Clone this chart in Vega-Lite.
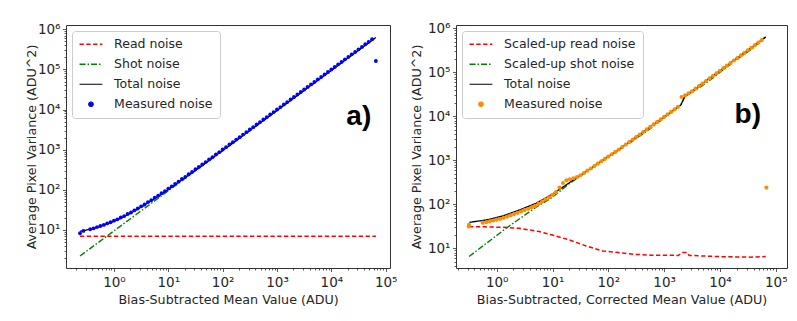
{
  "padding": {"left": 24, "top": 20, "right": 0, "bottom": 0},
  "spacing": 11,
  "config": {
    "font": "DejaVu Sans",
    "view": {"stroke": "#333333", "strokeWidth": 1},
    "axis": {"domain": false, "grid": false, "tickColor": "#333333", "tickWidth": 0.8,
      "labelFont": "DejaVu Sans", "labelFontSize": 13.5, "labelColor": "#262626",
      "titleFont": "DejaVu Sans", "titleFontSize": 12.7, "titleFontWeight": "normal", "titleColor": "#262626",
      "labelPadding": 2.5, "labelOverlap": false, "labelFlush": false, "labelBound": false},
    "axisX": {"labelPadding": 3.5},
    "legend": {"labelFont": "DejaVu Sans", "labelFontSize": 12.5, "labelColor": "#262626", "labelLimit": 400}
  },
  "resolve": {"scale": {"x": "independent", "y": "independent", "color": "independent", "strokeDash": "independent", "strokeWidth": "independent"}, "legend": {"color": "independent"}},
  "datasets": {
    "a_lines": [
      {"x": 0.2371, "y": 7, "s": "Read noise"}, {"x": 66000, "y": 7, "s": "Read noise"},
      {"x": 0.2371, "y": 2.25, "s": "Shot noise"}, {"x": 66000, "y": 627000, "s": "Shot noise"},
      {"x": 0.2371, "y": 9.25, "s": "Total noise"}, {"x": 0.3, "y": 9.85, "s": "Total noise"}, {"x": 0.4, "y": 10.8, "s": "Total noise"},
      {"x": 0.5, "y": 11.75, "s": "Total noise"}, {"x": 0.7, "y": 13.65, "s": "Total noise"}, {"x": 1, "y": 16.5, "s": "Total noise"},
      {"x": 1.5, "y": 21.25, "s": "Total noise"}, {"x": 2, "y": 26, "s": "Total noise"}, {"x": 3, "y": 35.5, "s": "Total noise"},
      {"x": 5, "y": 54.5, "s": "Total noise"}, {"x": 7, "y": 73.5, "s": "Total noise"}, {"x": 10, "y": 102, "s": "Total noise"},
      {"x": 20, "y": 197, "s": "Total noise"}, {"x": 50, "y": 482, "s": "Total noise"}, {"x": 100, "y": 957, "s": "Total noise"},
      {"x": 300, "y": 2857, "s": "Total noise"}, {"x": 1000, "y": 9507, "s": "Total noise"}, {"x": 10000, "y": 95007, "s": "Total noise"},
      {"x": 66000, "y": 627007, "s": "Total noise"}
    ],
    "a_meas": [
      {"x": 0.2371, "y": 8.3}, {"x": 0.2738, "y": 9.5}, {"x": 0.3652, "y": 10.4}, {"x": 0.4217, "y": 11.0}, {"x": 0.487, "y": 11.8},
      {"x": 0.5623, "y": 12.6}, {"x": 0.6494, "y": 13.4}, {"x": 0.7499, "y": 14.6}, {"x": 0.866, "y": 15.6}, {"x": 1.0, "y": 17.1},
      {"x": 1.155, "y": 18.4}, {"x": 1.334, "y": 20.5}, {"x": 1.54, "y": 22.2}, {"x": 1.778, "y": 25.0}, {"x": 2.054, "y": 27.3},
      {"x": 2.371, "y": 30.9}, {"x": 2.738, "y": 34.2}, {"x": 3.162, "y": 38.9}, {"x": 3.652, "y": 43.2}, {"x": 4.217, "y": 49.6},
      {"x": 4.87, "y": 55.3}, {"x": 5.623, "y": 63.8}, {"x": 6.494, "y": 71.5}, {"x": 7.499, "y": 82.6}, {"x": 8.66, "y": 93.1},
      {"x": 10, "y": 107.5}, {"x": 11.55, "y": 122}, {"x": 13.34, "y": 141}, {"x": 15.4, "y": 160}, {"x": 17.78, "y": 186},
      {"x": 20.54, "y": 211}, {"x": 23.71, "y": 245}, {"x": 27.38, "y": 280}, {"x": 31.62, "y": 325}, {"x": 36.52, "y": 370},
      {"x": 42.17, "y": 431}, {"x": 48.7, "y": 492}, {"x": 56.23, "y": 572}, {"x": 64.94, "y": 653}, {"x": 74.99, "y": 761},
      {"x": 86.6, "y": 870}, {"x": 100, "y": 1012}, {"x": 115.5, "y": 1158}, {"x": 133.4, "y": 1345}, {"x": 154, "y": 1543},
      {"x": 177.8, "y": 1790}, {"x": 205.4, "y": 2056}, {"x": 237.1, "y": 2385}, {"x": 273.8, "y": 2740}, {"x": 316.2, "y": 3180},
      {"x": 365.2, "y": 3650}, {"x": 421.7, "y": 4235}, {"x": 487, "y": 4870}, {"x": 562.3, "y": 5650}, {"x": 649.4, "y": 6490},
      {"x": 749.9, "y": 7530}, {"x": 866, "y": 8650}, {"x": 1000, "y": 10050}, {"x": 1155, "y": 11540}, {"x": 1334, "y": 13400},
      {"x": 1540, "y": 15380}, {"x": 1778, "y": 17850}, {"x": 2054, "y": 20520}, {"x": 2371, "y": 23800}, {"x": 2738, "y": 27350},
      {"x": 3162, "y": 31700}, {"x": 3652, "y": 36500}, {"x": 4217, "y": 42300}, {"x": 4870, "y": 48650}, {"x": 5623, "y": 56400},
      {"x": 6494, "y": 64900}, {"x": 7499, "y": 75200}, {"x": 8660, "y": 86500}, {"x": 10000, "y": 100300}, {"x": 11550, "y": 115400},
      {"x": 13340, "y": 133800}, {"x": 15400, "y": 153800}, {"x": 17780, "y": 178300}, {"x": 20540, "y": 205100}, {"x": 23710, "y": 237800},
      {"x": 27380, "y": 273500}, {"x": 31620, "y": 317100}, {"x": 36520, "y": 364800}, {"x": 42170, "y": 422900}, {"x": 48700, "y": 486500},
      {"x": 56230, "y": 563900}, {"x": 66000, "y": 162000}
    ],
    "b_lines": [
      {"x": 0.32, "y": 31, "s": "Scaled-up read noise"}, {"x": 0.6, "y": 30.8, "s": "Scaled-up read noise"}, {"x": 1.28, "y": 30, "s": "Scaled-up read noise"},
      {"x": 2.55, "y": 28.5, "s": "Scaled-up read noise"}, {"x": 5.8, "y": 24, "s": "Scaled-up read noise"}, {"x": 10, "y": 20, "s": "Scaled-up read noise"},
      {"x": 20, "y": 15.5, "s": "Scaled-up read noise"}, {"x": 40, "y": 11.3, "s": "Scaled-up read noise"}, {"x": 79, "y": 8.7, "s": "Scaled-up read noise"},
      {"x": 150, "y": 8.0, "s": "Scaled-up read noise"}, {"x": 290, "y": 7.3, "s": "Scaled-up read noise"}, {"x": 575, "y": 7.0, "s": "Scaled-up read noise"},
      {"x": 1800, "y": 6.9, "s": "Scaled-up read noise"}, {"x": 2100, "y": 8.0, "s": "Scaled-up read noise"}, {"x": 2600, "y": 8.0, "s": "Scaled-up read noise"},
      {"x": 2800, "y": 6.9, "s": "Scaled-up read noise"}, {"x": 8800, "y": 6.5, "s": "Scaled-up read noise"}, {"x": 35000, "y": 6.3, "s": "Scaled-up read noise"},
      {"x": 66000, "y": 6.5, "s": "Scaled-up read noise"},
      {"x": 0.32, "y": 6.5, "s": "Scaled-up shot noise"}, {"x": 1.47, "y": 28.5, "s": "Scaled-up shot noise"}, {"x": 5, "y": 85, "s": "Scaled-up shot noise"},
      {"x": 10, "y": 145, "s": "Scaled-up shot noise"}, {"x": 20, "y": 295, "s": "Scaled-up shot noise"}, {"x": 40, "y": 540, "s": "Scaled-up shot noise"},
      {"x": 79, "y": 1005, "s": "Scaled-up shot noise"}, {"x": 150, "y": 1690, "s": "Scaled-up shot noise"}, {"x": 290, "y": 2890, "s": "Scaled-up shot noise"},
      {"x": 575, "y": 5340, "s": "Scaled-up shot noise"}, {"x": 1150, "y": 10690, "s": "Scaled-up shot noise"}, {"x": 1995, "y": 18190, "s": "Scaled-up shot noise"},
      {"x": 2344, "y": 28190, "s": "Scaled-up shot noise"}, {"x": 4560, "y": 46990, "s": "Scaled-up shot noise"}, {"x": 8800, "y": 86990, "s": "Scaled-up shot noise"},
      {"x": 17600, "y": 175000, "s": "Scaled-up shot noise"}, {"x": 35000, "y": 320000, "s": "Scaled-up shot noise"}, {"x": 66000, "y": 636000, "s": "Scaled-up shot noise"},
      {"x": 0.324, "y": 39, "s": "Total noise"}, {"x": 0.45, "y": 41.3, "s": "Total noise"}, {"x": 0.645, "y": 44, "s": "Total noise"},
      {"x": 0.9, "y": 48.6, "s": "Total noise"}, {"x": 1.28, "y": 54.2, "s": "Total noise"}, {"x": 1.8, "y": 63.4, "s": "Total noise"},
      {"x": 2.55, "y": 74.3, "s": "Total noise"}, {"x": 3.6, "y": 88.5, "s": "Total noise"}, {"x": 5.07, "y": 105.4, "s": "Total noise"},
      {"x": 7, "y": 132.7, "s": "Total noise"}, {"x": 10, "y": 171, "s": "Total noise"}, {"x": 20, "y": 309, "s": "Total noise"},
      {"x": 40, "y": 557, "s": "Total noise"}, {"x": 148, "y": 1700, "s": "Total noise"}, {"x": 1995, "y": 18200, "s": "Total noise"},
      {"x": 2344, "y": 28200, "s": "Total noise"}, {"x": 66000, "y": 636000, "s": "Total noise"}
    ],
    "b_meas": [
      {"x": 0.316, "y": 31.5}, {"x": 0.319, "y": 34}, {"x": 0.562, "y": 38.3}, {"x": 0.649, "y": 39.2}, {"x": 0.75, "y": 41.0},
      {"x": 0.866, "y": 42.9}, {"x": 1.0, "y": 44.8}, {"x": 1.155, "y": 46.8}, {"x": 1.334, "y": 49.2}, {"x": 1.54, "y": 52.6},
      {"x": 1.778, "y": 56.1}, {"x": 2.054, "y": 60.0}, {"x": 2.371, "y": 64.1}, {"x": 2.738, "y": 68.7}, {"x": 3.162, "y": 74.0},
      {"x": 3.652, "y": 79.4}, {"x": 4.217, "y": 85.5}, {"x": 4.87, "y": 92.0}, {"x": 5.623, "y": 103.5}, {"x": 6.494, "y": 114.8},
      {"x": 7.499, "y": 130.3}, {"x": 8.66, "y": 144.2}, {"x": 10, "y": 163.7}, {"x": 11.55, "y": 189}, {"x": 13.34, "y": 240},
      {"x": 15.4, "y": 305}, {"x": 17.78, "y": 352}, {"x": 20.54, "y": 372}, {"x": 23.71, "y": 392}, {"x": 27.38, "y": 418},
      {"x": 31.62, "y": 457}, {"x": 36.52, "y": 516}, {"x": 42.17, "y": 583}, {"x": 48.7, "y": 650}, {"x": 56.23, "y": 745},
      {"x": 64.94, "y": 843}, {"x": 74.99, "y": 952}, {"x": 86.6, "y": 1076}, {"x": 100, "y": 1217}, {"x": 115.5, "y": 1375},
      {"x": 133.4, "y": 1555}, {"x": 154, "y": 1762}, {"x": 177.8, "y": 2009}, {"x": 205.4, "y": 2291}, {"x": 237.1, "y": 2612},
      {"x": 273.8, "y": 2978}, {"x": 316.2, "y": 3396}, {"x": 365.2, "y": 3873}, {"x": 421.7, "y": 4416}, {"x": 487, "y": 5036},
      {"x": 562.3, "y": 5742}, {"x": 649.4, "y": 6548}, {"x": 749.9, "y": 7467}, {"x": 866, "y": 8515}, {"x": 1000, "y": 9710},
      {"x": 1155, "y": 11070}, {"x": 1334, "y": 12620}, {"x": 1540, "y": 14390}, {"x": 1778, "y": 16410}, {"x": 2054, "y": 27540},
      {"x": 2371, "y": 29850}, {"x": 2738, "y": 33340}, {"x": 3162, "y": 37220}, {"x": 3652, "y": 42560}, {"x": 4217, "y": 48640},
      {"x": 4870, "y": 55590}, {"x": 5623, "y": 63530}, {"x": 6494, "y": 72780}, {"x": 7499, "y": 83180}, {"x": 8660, "y": 95060},
      {"x": 10000, "y": 108600}, {"x": 11550, "y": 124200}, {"x": 13340, "y": 141900}, {"x": 15400, "y": 162200}, {"x": 17780, "y": 185400},
      {"x": 20540, "y": 212300}, {"x": 23710, "y": 242700}, {"x": 27380, "y": 277300}, {"x": 31620, "y": 317000}, {"x": 36520, "y": 362200},
      {"x": 42170, "y": 414000}, {"x": 48700, "y": 473200}, {"x": 56230, "y": 540800}, {"x": 68000, "y": 240}
    ],
    "a_text": [{"x": 32000, "y": 6400, "t": "a)"}],
    "b_text": [{"x": 31600, "y": 10700, "t": "b)"}]
  },
  "hconcat": [
    {
      "width": 324, "height": 243,
      "encoding": {
        "x": {"field": "x", "type": "quantitative",
          "scale": {"type": "log", "domain": [0.131, 120000], "nice": false},
          "axis": {"title": "Bias-Subtracted Mean Value (ADU)", "titlePadding": 5,
            "values": [0.2,0.3,0.4,0.5,0.6,0.7,0.8,0.9,1,2,3,4,5,6,7,8,9,10,20,30,40,50,60,70,80,90,100,200,300,400,500,600,700,800,900,1000,2000,3000,4000,5000,6000,7000,8000,9000,10000,20000,30000,40000,50000,60000,70000,80000,90000,100000],
            "labelExpr": "abs(log(datum.value)/LN10 - round(log(datum.value)/LN10)) < 0.001 ? '10' + ['⁰','¹','²','³','⁴','⁵','⁶'][round(log(datum.value)/LN10)] : ''",
            "tickSize": {"condition": {"test": "abs(log(datum.value)/LN10 - round(log(datum.value)/LN10)) < 0.001", "value": 3.5}, "value": 2}}},
        "y": {"field": "y", "type": "quantitative",
          "scale": {"type": "log", "domain": [1.13, 1280000], "nice": false},
          "axis": {"title": "Average Pixel Variance (ADU^2)", "titlePadding": -1,
            "values": [2,3,4,5,6,7,8,9,10,20,30,40,50,60,70,80,90,100,200,300,400,500,600,700,800,900,1000,2000,3000,4000,5000,6000,7000,8000,9000,10000,20000,30000,40000,50000,60000,70000,80000,90000,100000,200000,300000,400000,500000,600000,700000,800000,900000,1000000],
            "labelExpr": "abs(log(datum.value)/LN10 - round(log(datum.value)/LN10)) < 0.001 ? '10' + ['⁰','¹','²','³','⁴','⁵','⁶'][round(log(datum.value)/LN10)] : ''",
            "tickSize": {"condition": {"test": "abs(log(datum.value)/LN10 - round(log(datum.value)/LN10)) < 0.001", "value": 3.5}, "value": 2}}}
      },
      "layer": [
        {
          "data": {"name": "a_lines"},
          "mark": {"type": "line", "clip": true},
          "encoding": {
            "color": {"field": "s", "type": "nominal",
              "scale": {"domain": ["Read noise", "Shot noise", "Total noise", "Measured noise"], "range": ["#ff0000", "#008000", "#000000", "#0000ff"]},
              "legend": {"title": null, "orient": "top-left", "offset": 6, "padding": 7, "fillColor": "#ffffff", "strokeColor": "#cccccc", "cornerRadius": 3,
                "symbolSize": 130, "labelOffset": 22.6, "rowPadding": 7,
                "encode": {"symbols": {"update": {
                  "shape": {"signal": "datum.value == 'Measured noise' ? 'M1.4,0A0.4,0.4,0,1,1,0.6,0A0.4,0.4,0,1,1,1.4,0Z' : 'M-1,0H3'"},
                  "fill": {"signal": "datum.value == 'Measured noise' ? '#0000ff' : 'transparent'"},
                  "stroke": {"signal": "datum.value == 'Read noise' ? '#ff0000' : datum.value == 'Shot noise' ? '#008000' : datum.value == 'Total noise' ? '#000000' : 'transparent'"},
                  "strokeDash": {"signal": "datum.value == 'Read noise' ? [4.3, 2.5] : datum.value == 'Shot noise' ? [6, 2, 1.5, 2] : [1, 0]"},
                  "strokeWidth": {"signal": "datum.value == 'Read noise' ? 1.5 : datum.value == 'Shot noise' ? 1.3 : 1.1"},
                  "size": {"value": 130},
                  "opacity": {"value": 1}
                }}}}},
            "strokeDash": {"field": "s", "type": "nominal", "scale": {"domain": ["Read noise", "Shot noise", "Total noise"], "range": [[4.3, 2.5], [6, 2, 1.5, 2], [1, 0]]}, "legend": null},
            "strokeWidth": {"field": "s", "type": "nominal", "scale": {"domain": ["Read noise", "Shot noise", "Total noise"], "range": [1.5, 1.3, 1.1]}, "legend": null}
          }
        },
        {
          "data": {"name": "a_meas"},
          "transform": [{"calculate": "'Measured noise'", "as": "s"}],
          "mark": {"type": "circle", "size": 15, "opacity": 1, "clip": true},
          "encoding": {"color": {"field": "s", "type": "nominal"}}
        },
        {
          "data": {"name": "a_text"},
          "mark": {"type": "text", "font": "Liberation Sans", "fontWeight": "bold", "fontSize": 28, "color": "#000000"},
          "encoding": {"text": {"field": "t"}}
        }
      ]
    },
    {
      "width": 331, "height": 243,
      "encoding": {
        "x": {"field": "x", "type": "quantitative",
          "scale": {"type": "log", "domain": [0.1866, 159000], "nice": false},
          "axis": {"title": "Bias-Subtracted, Corrected Mean Value (ADU)", "titlePadding": 5,
            "values": [0.2,0.3,0.4,0.5,0.6,0.7,0.8,0.9,1,2,3,4,5,6,7,8,9,10,20,30,40,50,60,70,80,90,100,200,300,400,500,600,700,800,900,1000,2000,3000,4000,5000,6000,7000,8000,9000,10000,20000,30000,40000,50000,60000,70000,80000,90000,100000],
            "labelExpr": "abs(log(datum.value)/LN10 - round(log(datum.value)/LN10)) < 0.001 ? '10' + ['⁰','¹','²','³','⁴','⁵','⁶'][round(log(datum.value)/LN10)] : ''",
            "tickSize": {"condition": {"test": "abs(log(datum.value)/LN10 - round(log(datum.value)/LN10)) < 0.001", "value": 3.5}, "value": 2}}},
        "y": {"field": "y", "type": "quantitative",
          "scale": {"type": "log", "domain": [3.57, 1190000], "nice": false},
          "axis": {"title": "Average Pixel Variance (ADU^2)", "titlePadding": 4,
            "values": [4,5,6,7,8,9,10,20,30,40,50,60,70,80,90,100,200,300,400,500,600,700,800,900,1000,2000,3000,4000,5000,6000,7000,8000,9000,10000,20000,30000,40000,50000,60000,70000,80000,90000,100000,200000,300000,400000,500000,600000,700000,800000,900000,1000000],
            "labelExpr": "abs(log(datum.value)/LN10 - round(log(datum.value)/LN10)) < 0.001 ? '10' + ['⁰','¹','²','³','⁴','⁵','⁶'][round(log(datum.value)/LN10)] : ''",
            "tickSize": {"condition": {"test": "abs(log(datum.value)/LN10 - round(log(datum.value)/LN10)) < 0.001", "value": 3.5}, "value": 2}}}
      },
      "layer": [
        {
          "data": {"name": "b_lines"},
          "mark": {"type": "line", "clip": true},
          "encoding": {
            "color": {"field": "s", "type": "nominal",
              "scale": {"domain": ["Scaled-up read noise", "Scaled-up shot noise", "Total noise", "Measured noise"], "range": ["#ff0000", "#008000", "#000000", "#ff8c00"]},
              "legend": {"title": null, "orient": "top-left", "offset": 6, "padding": 7, "fillColor": "#ffffff", "strokeColor": "#cccccc", "cornerRadius": 3,
                "symbolSize": 130, "labelOffset": 22.6, "rowPadding": 7,
                "encode": {"symbols": {"update": {
                  "shape": {"signal": "datum.value == 'Measured noise' ? 'M1.4,0A0.4,0.4,0,1,1,0.6,0A0.4,0.4,0,1,1,1.4,0Z' : 'M-1,0H3'"},
                  "fill": {"signal": "datum.value == 'Measured noise' ? '#ff8c00' : 'transparent'"},
                  "stroke": {"signal": "datum.value == 'Scaled-up read noise' ? '#ff0000' : datum.value == 'Scaled-up shot noise' ? '#008000' : datum.value == 'Total noise' ? '#000000' : 'transparent'"},
                  "strokeDash": {"signal": "datum.value == 'Scaled-up read noise' ? [4.3, 2.5] : datum.value == 'Scaled-up shot noise' ? [6, 2, 1.5, 2] : [1, 0]"},
                  "strokeWidth": {"signal": "datum.value == 'Scaled-up read noise' ? 1.5 : datum.value == 'Scaled-up shot noise' ? 1.3 : 1.1"},
                  "size": {"value": 130},
                  "opacity": {"value": 1}
                }}}}},
            "strokeDash": {"field": "s", "type": "nominal", "scale": {"domain": ["Scaled-up read noise", "Scaled-up shot noise", "Total noise"], "range": [[4.3, 2.5], [6, 2, 1.5, 2], [1, 0]]}, "legend": null},
            "strokeWidth": {"field": "s", "type": "nominal", "scale": {"domain": ["Scaled-up read noise", "Scaled-up shot noise", "Total noise"], "range": [1.5, 1.3, 1.1]}, "legend": null}
          }
        },
        {
          "data": {"name": "b_meas"},
          "transform": [{"calculate": "'Measured noise'", "as": "s"}],
          "mark": {"type": "circle", "size": 17, "opacity": 1, "clip": true},
          "encoding": {"color": {"field": "s", "type": "nominal"}}
        },
        {
          "data": {"name": "b_text"},
          "mark": {"type": "text", "font": "Liberation Sans", "fontWeight": "bold", "fontSize": 28, "color": "#000000"},
          "encoding": {"text": {"field": "t"}}
        }
      ]
    }
  ]
}
